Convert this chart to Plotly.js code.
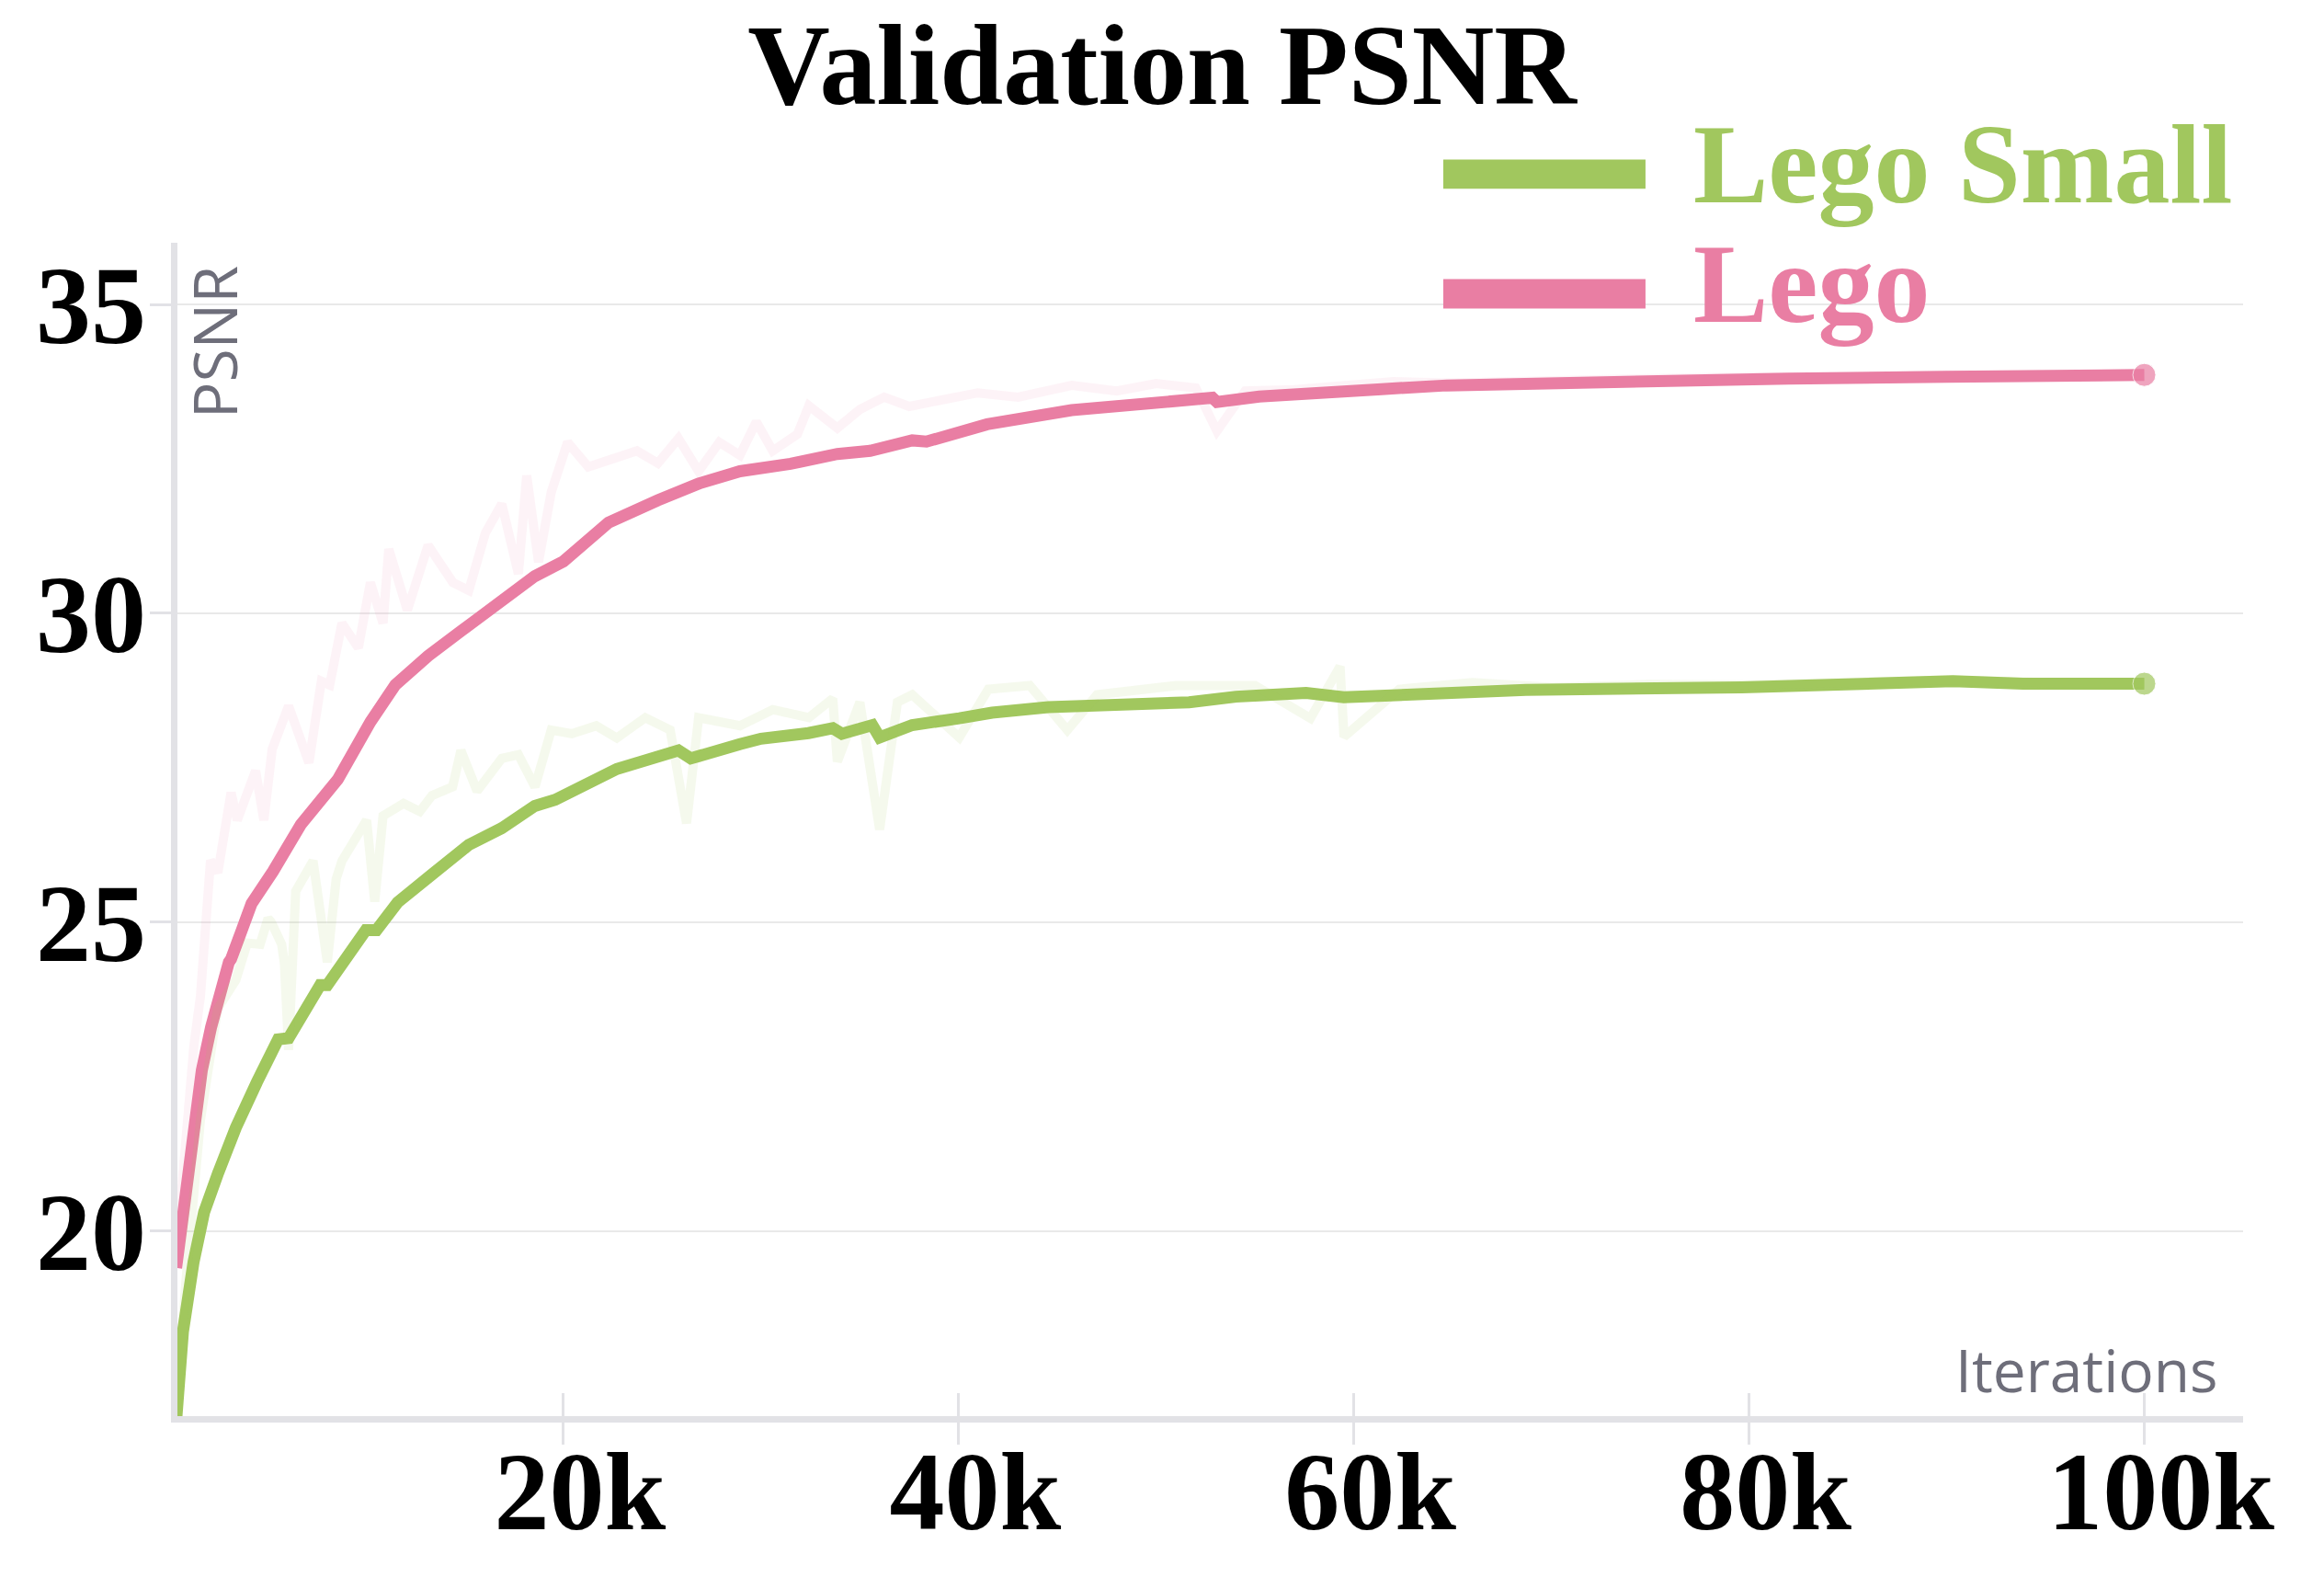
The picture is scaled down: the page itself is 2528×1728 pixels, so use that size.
<!DOCTYPE html>
<html>
<head>
<meta charset="utf-8">
<script src="https://cdn.plot.ly/plotly-3.0.1.min.js"></script>
<style>
  html, body { margin: 0; padding: 0; background: #fff; }
  #graph1 { width: 2528px; height: 1728px; }
</style>
</head>
<body>
<div id="graph1"></div>
<script>
// series names and colours, legend order top to bottom
var seriesNames = ['Lego Small', 'Lego'];
var seriesColors = ['#a1c75e', '#e97ea3'];
var rawColors = ['rgba(161,199,94,0.11)', 'rgba(233,126,163,0.09)'];

// Lego Small, smoothed
var smallIter = [370, 745, 1284, 1814, 2530, 3420, 4490, 5560, 6090, 6980, 7690, 8050, 10000, 10540,
  11610, 13380, 15210, 16880, 18550, 19580, 22700, 25820, 26440, 28930, 30000, 32400, 33630, 34090,
  35630, 36000, 37650, 40030, 41690, 44540, 48090, 51660, 54030, 57580, 59490, 62320, 68700, 79630,
  90320, 93860, 100000];
var smallPsnr = [16.8, 18.37, 19.5, 20.3, 20.94, 21.67, 22.41, 23.1, 23.12, 23.64, 23.98, 23.98, 24.87, 24.87,
  25.32, 25.78, 26.25, 26.52, 26.88, 26.98, 27.48, 27.78, 27.65, 27.88, 27.97, 28.06, 28.14, 28.05,
  28.19, 27.99, 28.19, 28.3, 28.39, 28.48, 28.5, 28.56, 28.65, 28.71, 28.64, 28.68, 28.76, 28.8,
  28.9, 28.86, 28.86];

// Lego Small, raw
var smallRawIter = [370, 900, 1630, 2500, 3420, 4000, 4650, 5050, 5210, 5740, 5880, 6090, 6450, 6700, 7330,
  8050, 8500, 8790, 9410, 10040, 10450, 10870, 11910, 12730, 13350, 14390, 14810, 15630, 16880, 17720,
  18560, 19380, 20420, 21660, 22700, 24140, 25400, 26230, 26840, 28930, 30590, 32420, 33630, 33860,
  35000, 36000, 36900, 37650, 40030, 41500, 43600, 45500, 47000, 51000, 55000, 57800, 59300, 59500,
  62300, 66000, 70000, 75000, 80000, 85000, 90000, 95000, 100000];
var smallRawPsnr = [16.9, 19.2, 21.8, 23.6, 24.06, 24.66, 24.64, 25.06, 25.0, 24.64, 24.33, 22.93, 25.5, 25.66, 25.99,
  24.35, 25.7, 25.99, 26.32, 26.65, 25.33, 26.72, 26.92, 26.79, 27.05, 27.19, 27.78, 27.12, 27.65, 27.71,
  27.19, 28.11, 28.05, 28.18, 27.98, 28.31, 28.11, 26.6, 28.31, 28.18, 28.44, 28.31, 28.62, 27.6,
  28.56, 26.5, 28.56, 28.68, 27.99, 28.77, 28.83, 28.11, 28.68, 28.83, 28.83, 28.3, 29.14, 28.0,
  28.77, 28.88, 28.8, 28.85, 28.84, 28.88, 28.92, 28.88, 28.88];

// Lego, smoothed
var legoIter = [400, 750, 1280, 1700, 2170, 2350, 3070, 3180, 4220, 5300, 6710, 8580, 10230, 11490, 13150,
  14810, 16470, 18550, 20000, 22280, 24780, 26840, 28930, 31490, 33860, 35520, 37650, 38370, 41440,
  45720, 52840, 53070, 55210, 59950, 61400, 64700, 68700, 82000, 90000, 100000];
var legoPsnr = [19.4, 20.3, 21.8, 22.6, 23.3, 23.55, 24.35, 24.4, 25.3, 25.82, 26.58, 27.31, 28.24, 28.84, 29.31,
  29.71, 30.1, 30.6, 30.84, 31.47, 31.83, 32.1, 32.3, 32.42, 32.58, 32.63, 32.8, 32.78, 33.06,
  33.29, 33.49, 33.42, 33.51, 33.57, 33.63, 33.69, 33.72, 33.8, 33.83, 33.86];

// Lego, raw
var legoRawIter = [400, 930, 1300, 1630, 2140, 2510, 3180, 3490, 4420, 4840, 5260, 6090, 7120, 7750, 8170,
  8790, 9620, 10230, 10870, 11160, 12100, 13150, 14400, 15210, 16050, 16880, 17720, 18140, 18740, 19380,
  20210, 21260, 22700, 23720, 24780, 25820, 26840, 27890, 28930, 29760, 30590, 31840, 32420, 33860,
  35000, 36230, 37500, 39000, 40970, 43000, 45720, 48000, 50000, 52000, 53070, 54500, 57000, 60000,
  62000, 65000, 70000, 75000, 80000, 85000, 90000, 95000, 100000];
var legoRawPsnr = [19.6, 21.8, 23.0, 23.8, 26.0, 25.8, 27.1, 26.65, 27.45, 26.65, 27.8, 28.5, 27.58, 28.9, 28.84,
  29.84, 29.44, 30.5, 29.84, 31.04, 30.05, 31.1, 30.5, 30.37, 31.3, 31.77, 30.64, 32.23, 30.83, 31.96,
  32.77, 32.37, 32.5, 32.63, 32.43, 32.83, 32.3, 32.77, 32.56, 33.1, 32.63, 32.9, 33.36, 33.0,
  33.3, 33.5, 33.35, 33.45, 33.57, 33.5, 33.69, 33.6, 33.72, 33.65, 32.95, 33.6, 33.62, 33.7,
  33.75, 33.73, 33.78, 33.8, 33.83, 33.82, 33.86, 33.85, 33.88];

var xTickVals = [20000, 40000, 60000, 80000, 100000];
var xTickText = ['20k', '40k', '60k', '80k', '100k'];
var yTickVals = [20, 25, 30, 35];

var serifFont = 'Liberation Serif, Times New Roman, serif';
var sansFont = 'Open Sans, Noto Sans, sans-serif';
var axisGrey = '#e2e2e6';
var labelGrey = '#6e6e7a';

function endSizes(arr, size) { // marker only on the last point
    return arr.map(function(v, i) { return i == arr.length - 1 ? size : 0; });
}

function rawTrace(x, y, color, xaxis) {
    return {x: x, y: y, type: 'scatter', mode: 'lines', xaxis: xaxis,
            line: {color: color, width: 10}, hoverinfo: 'skip', showlegend: false};
}

function smoothTrace(x, y, color, name) {
    return {x: x, y: y, type: 'scatter', mode: 'lines+markers', name: name,
            line: {color: color, width: 13},
            marker: {color: color, size: endSizes(x, 25)}, showlegend: false};
}

var data = [
    rawTrace(smallRawIter, smallRawPsnr, rawColors[0], 'x2'),
    rawTrace(legoRawIter, legoRawPsnr, rawColors[1], 'x'),
    smoothTrace(smallIter, smallPsnr, seriesColors[0], seriesNames[0]),
    smoothTrace(legoIter, legoPsnr, seriesColors[1], seriesNames[1])
];

// hand-drawn legend: wide swatch + coloured label per series
var shapes = [];
var annotations = [];
var legendRowY = [1.067, 0.965];
for (var i = 0; i < seriesNames.length; i++) {
    shapes.push({type: 'rect', xref: 'paper', yref: 'paper',
                 x0: 0.6128, x1: 0.7107, y0: legendRowY[i] - 0.021, y1: legendRowY[i] + 0.004,
                 fillcolor: seriesColors[i], line: {width: 0}});
    annotations.push({xref: 'paper', yref: 'paper', x: 0.733, y: legendRowY[i],
                      xanchor: 'left', yanchor: 'middle', showarrow: false, text: seriesNames[i],
                      font: {family: serifFont, size: 122, color: seriesColors[i], weight: 'bold'}});
}
annotations.push({xref: 'paper', yref: 'paper', x: 0.0175, y: 0.982, xanchor: 'center', yanchor: 'top',
                  textangle: -90, showarrow: false, text: 'PSNR',
                  font: {family: sansFont, size: 66, color: labelGrey}});
annotations.push({xref: 'paper', yref: 'paper', x: 0.989, y: 0.004, xanchor: 'right', yanchor: 'bottom',
                  showarrow: false, text: 'Iterations',
                  font: {family: sansFont, size: 64, color: labelGrey}});

var layout = {
    width: 2528,
    height: 1728,
    autosize: false,
    margin: {l: 193, r: 88, t: 264, b: 188, pad: 0},
    paper_bgcolor: '#ffffff',
    plot_bgcolor: '#ffffff',
    showlegend: false,
    title: {text: 'Validation PSNR', x: 0.5, xref: 'container', xanchor: 'center',
            y: 1 - 70 / 1728, yref: 'container', yanchor: 'middle',
            font: {family: serifFont, size: 124, color: '#000000', weight: 'bold'}},
    xaxis: {
        range: [465, 105000],
        tickvals: xTickVals, ticktext: xTickText,
        ticks: 'outside', ticklen: 24, tickwidth: 3, tickcolor: axisGrey,
        showline: true, linecolor: axisGrey, linewidth: 7,
        showgrid: false, zeroline: false,
        ticklabelshift: 18, ticklabelstandoff: -52,
        tickfont: {family: serifFont, size: 120, color: '#000000', weight: 'bold'}
    },
    xaxis2: {
        overlaying: 'x', matches: 'x', anchor: 'y', side: 'bottom',
        tickvals: xTickVals, showticklabels: false,
        ticks: 'inside', ticklen: 25, tickwidth: 3, tickcolor: axisGrey,
        showline: false, showgrid: false, zeroline: false
    },
    yaxis: {
        range: [17, 36],
        tickvals: yTickVals,
        ticks: 'outside', ticklen: 23, tickwidth: 3, tickcolor: axisGrey,
        showline: true, linecolor: axisGrey, linewidth: 7,
        showgrid: true, gridcolor: '#e9e9e9', gridwidth: 2,
        zeroline: false, ticklabelstandoff: -20,
        tickfont: {family: serifFont, size: 120, color: '#000000', weight: 'bold'}
    },
    shapes: shapes,
    annotations: annotations
};

Plotly.newPlot('graph1', data, layout, {staticPlot: true});
</script>
</body>
</html>
